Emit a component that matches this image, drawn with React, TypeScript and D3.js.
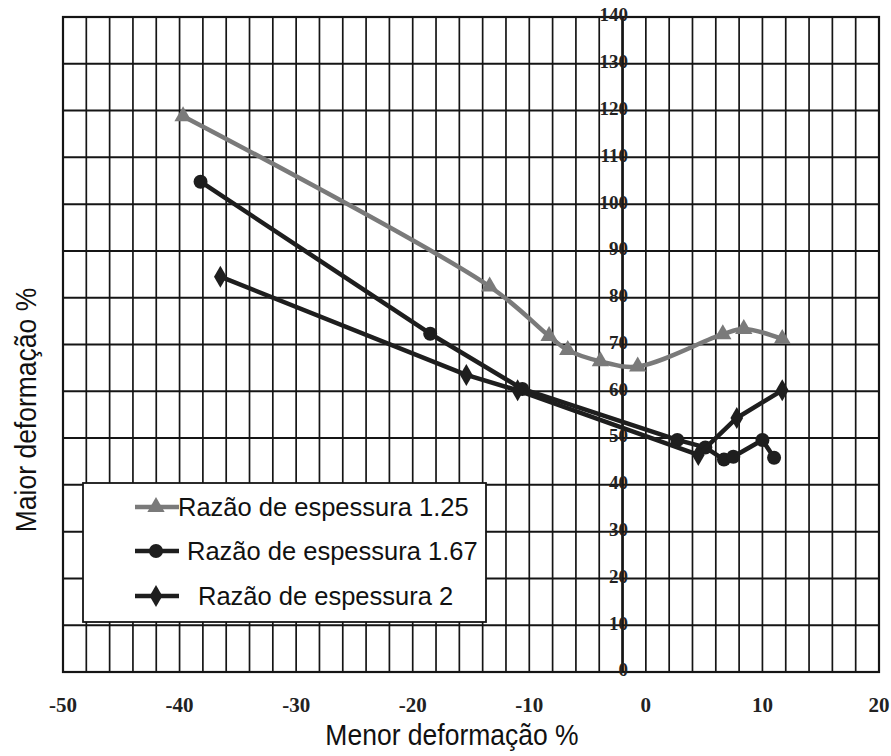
import React from "react";
import * as d3 from "d3";

// values
const xTicks = [-50, -40, -30, -20, -10, 0, 10, 20];
const yTicks = [0, 10, 20, 30, 40, 50, 60, 70, 80, 90, 100, 110, 120, 130, 140];

const ratio125 = [
  [-39.7, 118.8], [-13.4, 82.4], [-8.3, 71.8], [-6.7, 68.8], [-3.9, 66.4],
  [-0.7, 65.3], [6.6, 72.2], [8.4, 73.3], [11.7, 71.2],
];
const ratio167 = [
  [-38.2, 104.8], [-18.5, 72.3], [-10.6, 60.5], [2.7, 49.6], [5.1, 48.0],
  [6.7, 45.4], [7.5, 46.0], [10.0, 49.6], [11.0, 45.8],
];
const ratio2 = [
  [-36.5, 84.5], [-15.4, 63.5], [-11.0, 60.2], [4.5, 46.4], [7.8, 54.3], [11.7, 60.2],
];

const legendLabels = ["Razão de espessura 1.25", "Razão de espessura 1.67", "Razão de espessura 2"];

const W = 891;
const H = 756;
const left = 63, right = 879, top = 17, bottom = 672;

export default function App() {
  const x = d3.scaleLinear().domain([-50, 20]).range([left, right]);
  const y = d3.scaleLinear().domain([0, 140]).range([bottom, top]);

  const smooth = d3
    .line<number[]>()
    .x(d => x(d[0]))
    .y(d => y(d[1]))
    .curve(d3.curveCatmullRom.alpha(0.5));
  const straight = d3
    .line<number[]>()
    .x(d => x(d[0]))
    .y(d => y(d[1]));

  const tri = d3.symbol().type(d3.symbolTriangle).size(130)();
  const dia = d3.symbol().type(d3.symbolDiamond).size(140)();

  const series = [
    { data: ratio125, color: "#7a7a7a", kind: "tri", gen: smooth },
    { data: ratio167, color: "#1e1e1e", kind: "circle", gen: straight },
    { data: ratio2, color: "#1e1e1e", kind: "dia", gen: straight },
  ];

  const marker = (kind: string, cx: number, cy: number, color: string, key: any) => {
    if (kind === "circle") return <circle key={key} cx={cx} cy={cy} r={7} fill={color} />;
    return (
      <path key={key} d={kind === "tri" ? tri! : dia!} transform={`translate(${cx},${cy})`} fill={color} />
    );
  };

  const vLines = d3.range(-50, 20.001, 2);
  const legendRows = [
    { y: 507, tx: 178 },
    { y: 551, tx: 187 },
    { y: 596, tx: 198 },
  ];

  return (
    <svg width={W} height={H} style={{ position: "absolute", left: 0, top: 0, background: "#fff" }}>
      <rect width={W} height={H} fill="#fff" />

      {/* grid */}
      <g stroke="#151515">
        {vLines.map(v => (
          <line key={"v" + v} x1={x(v)} x2={x(v)} y1={top} y2={bottom} strokeWidth={1.7} />
        ))}
        {yTicks.map(v => (
          <line key={"h" + v} x1={left} x2={right} y1={y(v)} y2={y(v)} strokeWidth={2} />
        ))}
        <rect x={left} y={top} width={right - left} height={bottom - top} fill="none" strokeWidth={2.2} />
        {/* vertical axis */}
        <line x1={x(-2)} x2={x(-2)} y1={top} y2={bottom} strokeWidth={2.6} />
      </g>

      {/* y tick labels, sitting on the axis */}
      <g fontFamily="'Liberation Serif', serif" fontWeight="bold" fontSize={19} fill="#222" textAnchor="end">
        {yTicks.map(v => (
          <text key={"yl" + v} x={628} y={y(v)} dominantBaseline="middle">
            {v}
          </text>
        ))}
      </g>

      {/* x tick labels */}
      <g fontFamily="'Liberation Serif', serif" fontWeight="bold" fontSize={21} fill="#222" textAnchor="middle">
        {xTicks.map(v => (
          <text key={"xl" + v} x={x(v)} y={712}>
            {v}
          </text>
        ))}
      </g>

      {/* series */}
      {series.map((s, i) => (
        <g key={"s" + i}>
          <path d={s.gen(s.data)!} fill="none" stroke={s.color} strokeWidth={4.5} strokeLinejoin="round" />
          {s.data.map((d, j) => marker(s.kind, x(d[0]), y(d[1]), s.color, j))}
        </g>
      ))}

      {/* legend */}
      <rect x={83} y={483} width={403} height={139} fill="#fff" stroke="#151515" strokeWidth={1.8} />
      {series.map((s, i) => (
        <g key={"lg" + i}>
          <line x1={135} x2={179} y1={legendRows[i].y} y2={legendRows[i].y} stroke={s.color} strokeWidth={4.5} />
          {marker(s.kind, 156, legendRows[i].y, s.color, "m")}
          <text
            x={legendRows[i].tx}
            y={legendRows[i].y + 9}
            fontFamily="'Liberation Sans', Arial, sans-serif"
            fontSize={25.5}
            fill="#111"
          >
            {legendLabels[i]}
          </text>
        </g>
      ))}

      {/* axis titles */}
      <text
        transform="translate(452,745) scale(1,1.12)"
        textAnchor="middle"
        fontFamily="'Liberation Sans', Arial, sans-serif"
        fontSize={26.5}
        fill="#111"
      >
        Menor deformação %
      </text>
      <text
        transform="translate(36,410) rotate(-90) scale(1,1.12)"
        textAnchor="middle"
        fontFamily="'Liberation Sans', Arial, sans-serif"
        fontSize={26.5}
        fill="#111"
      >
        Maior deformação %
      </text>
    </svg>
  );
}
